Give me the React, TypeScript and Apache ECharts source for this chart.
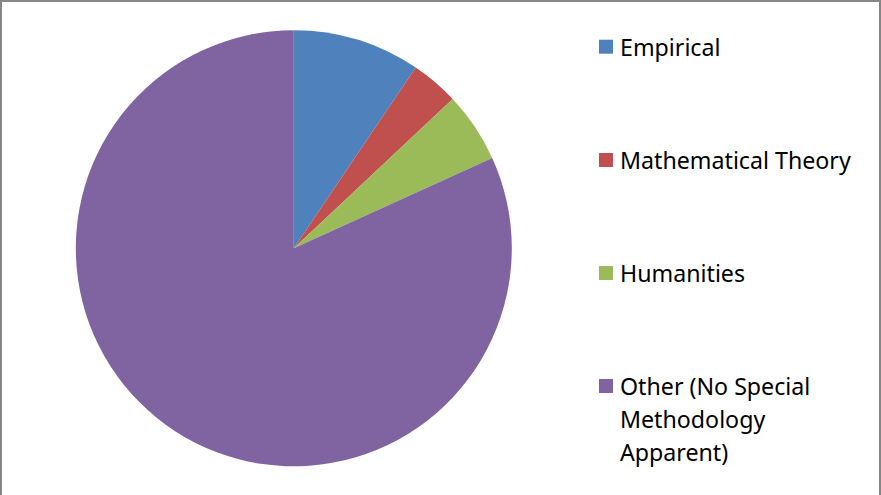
import React, { useEffect, useRef } from "react";
import * as echarts from "echarts";

const categories = [
  "Empirical",
  "Mathematical Theory",
  "Humanities",
  "Other (No Special Methodology Apparent)",
];
const legendLines = [
  ["Empirical"],
  ["Mathematical Theory"],
  ["Humanities"],
  ["Other (No Special", "Methodology", "Apparent)"],
];
const values = [9.45, 3.55, 5.2, 81.8];
const colors = ["#4F81BD", "#C0504D", "#9BBB59", "#8064A2"];

const FONT = "'Noto Sans', 'Open Sans', sans-serif";
const FONT_SIZE = 23.2;
const LINE_H = 33;
const iconCenters = [46.7, 160, 273, 386];

export default function App() {
  const ref = useRef<HTMLDivElement>(null);
  useEffect(() => {
    if (!ref.current) return;
    const chart = echarts.init(ref.current, undefined, { renderer: "svg" });
    const legends = categories.map((name, i) => {
      const lines = legendLines[i];
      const extraLines = lines.length - 1;
      // blank lines before so that the first text line sits at the icon's centre
      const label =
        "\n".repeat(extraLines) + lines.map((l) => `{a|${l}}`).join("\n");
      return {
        orient: "vertical",
        left: 599,
        top: iconCenters[i] - LINE_H / 2 - extraLines * LINE_H,
        padding: 0,
        itemWidth: 14,
        itemHeight: 14,
        itemGap: 0,
        icon: "rect",
        data: [name],
        selectedMode: false,
        formatter: () => label,
        textStyle: {
          fontFamily: FONT,
          fontSize: FONT_SIZE,
          color: "#000",
          lineHeight: LINE_H,
          rich: {
            a: {
              fontFamily: FONT,
              fontSize: FONT_SIZE,
              color: "#000",
              lineHeight: LINE_H,
              padding: [0, 0, 0, 2],
            },
          },
        },
      };
    });
    chart.setOption({
      animation: false,
      color: colors,
      graphic: [
        {
          type: "rect",
          shape: { x: 1, y: 1, width: 879, height: 520 },
          style: { fill: "none", stroke: "#868686", lineWidth: 2 },
          silent: true,
        },
      ],
      legend: legends,
      series: [
        {
          type: "pie",
          center: [293.8, 248.3],
          radius: 218,
          startAngle: 90,
          clockwise: true,
          label: { show: false },
          labelLine: { show: false },
          itemStyle: { borderWidth: 0 },
          emphasis: { disabled: true },
          data: categories.map((name, i) => ({ name, value: values[i] })),
        },
      ],
    });
    return () => chart.dispose();
  }, []);
  return (
    <div
      ref={ref}
      style={{ position: "fixed", left: 0, top: 0, width: 881, height: 495, background: "#fff" }}
    />
  );
}
